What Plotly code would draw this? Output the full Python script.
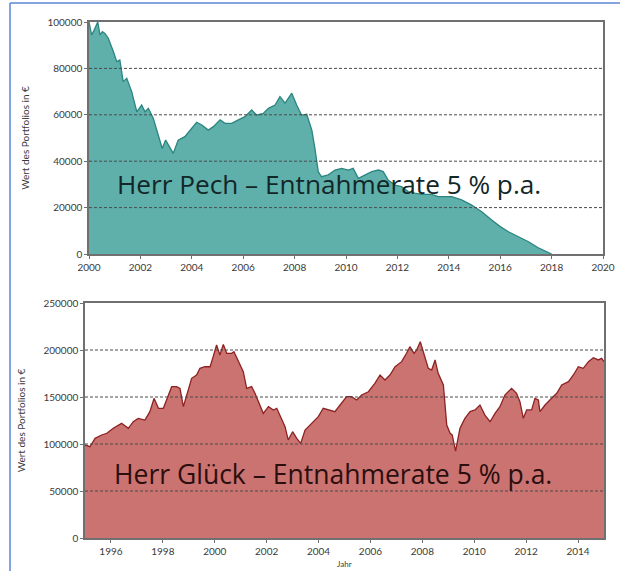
import plotly.graph_objects as go

# ---------------- data ----------------
pech_year = [2000.0, 2000.1, 2000.2, 2000.34, 2000.43, 2000.52, 2000.62, 2000.75, 2000.95, 2001.08, 2001.2,
             2001.33, 2001.47, 2001.66, 2001.86, 2002.05, 2002.18, 2002.31, 2002.5, 2002.7, 2002.85,
             2002.98, 2003.15, 2003.28, 2003.47, 2003.73, 2004.0, 2004.19, 2004.39, 2004.64, 2004.84,
             2005.1, 2005.29, 2005.55, 2005.81, 2006.07, 2006.33, 2006.52, 2006.78, 2006.98, 2007.24,
             2007.43, 2007.63, 2007.89, 2008.08, 2008.27, 2008.47, 2008.67, 2008.79, 2008.92, 2009.05,
             2009.31, 2009.57, 2009.83, 2010.09, 2010.28, 2010.48, 2010.74, 2011.0, 2011.26, 2011.45,
             2011.64, 2011.9, 2012.16, 2012.42, 2012.68, 2012.94, 2013.33, 2013.59, 2014.11, 2014.5,
             2014.89, 2015.28, 2015.67, 2016.0, 2016.32, 2016.71, 2017.1, 2017.48, 2017.94, 2018.0]
pech_value = [100000, 94400, 96500, 100000, 94400, 95800, 95100, 93000, 87200, 82900, 83600,
              74300, 75700, 70000, 61300, 64200, 61300, 62800, 58500, 51300, 45500,
              49100, 45500, 43400, 49100, 50600, 54200, 56800, 55600, 53400, 54900,
              57800, 56300, 56300, 57800, 59200, 62100, 59900, 60600, 62800, 64200,
              67800, 65000, 69300, 64200, 59900, 60200, 53400, 45500, 35500, 33300,
              34100, 36200, 36900, 36200, 36900, 32600, 34100, 35500, 36200, 35500,
              31900, 29700, 29000, 26900, 26200, 25700, 25700, 24700, 24700, 23300,
              21100, 18200, 14700, 11800, 9600, 7500, 5300, 2700, 300, 0]

glueck_year = [1995.0, 1995.19, 1995.39, 1995.64, 1995.84, 1996.09, 1996.41, 1996.67, 1996.86, 1997.05,
               1997.31, 1997.5, 1997.66, 1997.83, 1998.02, 1998.21, 1998.34, 1998.53, 1998.66, 1998.79,
               1998.92, 1999.11, 1999.3, 1999.43, 1999.62, 1999.82, 1999.94, 2000.07, 2000.2, 2000.33,
               2000.46, 2000.65, 2000.74, 2000.91, 2001.1, 2001.23, 2001.42, 2001.55, 2001.68, 2001.87,
               2002.07, 2002.26, 2002.39, 2002.58, 2002.71, 2002.83, 2003.0, 2003.16, 2003.31, 2003.48,
               2003.73, 2003.99, 2004.18, 2004.44, 2004.63, 2004.83, 2005.08, 2005.27, 2005.47, 2005.66,
               2005.92, 2006.17, 2006.37, 2006.56, 2006.75, 2006.95, 2007.2, 2007.39, 2007.52, 2007.68,
               2007.78, 2007.92, 2008.04, 2008.23, 2008.36, 2008.49, 2008.61, 2008.81, 2008.94, 2009.07,
               2009.15, 2009.28, 2009.45, 2009.64, 2009.84, 2010.03, 2010.22, 2010.41, 2010.61, 2010.8,
               2010.99, 2011.18, 2011.44, 2011.63, 2011.76, 2011.89, 2012.02, 2012.21, 2012.34, 2012.47,
               2012.53, 2012.73, 2012.98, 2013.18, 2013.37, 2013.63, 2013.82, 2014.01, 2014.2, 2014.4,
               2014.59, 2014.78, 2014.91, 2015.0]
glueck_value = [99000, 97100, 106000, 109600, 111400, 116700, 122000, 116700, 123700, 127300,
                125500, 134400, 148600, 138000, 138000, 152100, 161000, 161000, 159200, 139700,
                152100, 169900, 173400, 180500, 182200, 182200, 192900, 205300, 194700, 206000,
                196500, 196500, 198200, 187600, 176900, 159200, 161000, 153900, 145000, 132600,
                139700, 136200, 138000, 125500, 118400, 104300, 113100, 106000, 100700, 114900,
                122000, 129100, 138000, 136200, 134400, 141500, 150300, 150300, 146800, 152100,
                155600, 164500, 173400, 168100, 173400, 182200, 187600, 196500, 203500, 196500,
                200000, 208800, 198200, 180500, 178700, 189400, 175200, 162800, 120200, 111400,
                109600, 92500, 116700, 127300, 134400, 136200, 141500, 130800, 123700, 132600,
                139700, 152100, 159200, 153900, 145000, 127300, 136200, 136200, 148600, 146800,
                134400, 141500, 148600, 153900, 162800, 166300, 173400, 182200, 180500, 187600,
                191800, 189400, 191100, 187600]

pech_xticks = [2000, 2002, 2004, 2006, 2008, 2010, 2012, 2014, 2016, 2018, 2020]
pech_yticks = [0, 20000, 40000, 60000, 80000, 100000]
glueck_xticks = [1996, 1998, 2000, 2002, 2004, 2006, 2008, 2010, 2012, 2014]
glueck_yticks = [0, 50000, 100000, 150000, 200000, 250000]

y_title = "Wert des Portfolios in €"
x_title = "Jahr"
pech_label = "Herr Pech – Entnahmerate 5 % p.a."
glueck_label = "Herr Glück – Entnahmerate 5 % p.a."

# ---------------- layout helpers ----------------
W, H = 620, 571
def px(x):
    return x / W
def py(y):
    return (H - y) / H

tick_font = dict(family="Lato, DejaVu Sans, sans-serif", size=10, color="#3a3a3a")
title_font = dict(family="Lato, DejaVu Sans, sans-serif", size=10, color="#3a3a3a")
frame_col = "#707070"

fig = go.Figure()
fig.add_trace(go.Scatter(x=pech_year, y=pech_value, mode="lines", fill="tozeroy",
                         fillcolor="#5fb0ab", line=dict(color="#2a8580", width=1.3),
                         xaxis="x", yaxis="y", showlegend=False, hoverinfo="skip"))
fig.add_trace(go.Scatter(x=glueck_year, y=glueck_value, mode="lines", fill="tozeroy",
                         fillcolor="#ca7370", line=dict(color="#8e2222", width=1.3),
                         xaxis="x2", yaxis="y2", showlegend=False, hoverinfo="skip"))

axis_common = dict(showline=True, mirror=True, linecolor=frame_col, linewidth=1.5,
                   ticks="outside", ticklen=3, tickcolor=frame_col, tickfont=tick_font,
                   showgrid=False, zeroline=False, layer="above traces",
                   automargin=False, tickformat="d")

fig.update_layout(
    width=W, height=H,
    margin=dict(l=0, r=0, t=0, b=0, autoexpand=False),
    paper_bgcolor="white", plot_bgcolor="white",
    xaxis=dict(domain=[px(89), px(603)], range=[2000, 2020], tickvals=pech_xticks,
               anchor="y", **axis_common),
    yaxis=dict(domain=[py(254), py(22)], range=[0, 100000], tickvals=pech_yticks,
               anchor="x", title=dict(text=y_title, font=title_font, standoff=16), **axis_common),
    xaxis2=dict(domain=[px(85), px(604)], range=[1995, 2015], tickvals=glueck_xticks,
                anchor="y2", **axis_common),
    yaxis2=dict(domain=[py(538), py(303)], range=[0, 250000], tickvals=glueck_yticks,
                anchor="x2", title=dict(text=y_title, font=title_font, standoff=16), **axis_common),
)

shapes = []
# dashed gridlines above the filled areas
for v in pech_yticks[1:-1]:
    shapes.append(dict(type="line", xref="x domain", yref="y", x0=0, x1=1, y0=v, y1=v,
                       line=dict(color="#4a4a4a", width=1, dash="3px,2px"), layer="above"))
for v in glueck_yticks[1:-1]:
    shapes.append(dict(type="line", xref="x2 domain", yref="y2", x0=0, x1=1, y0=v, y1=v,
                       line=dict(color="#4a4a4a", width=1, dash="3px,2px"), layer="above"))
# blue frame of the picture
shapes.append(dict(type="line", xref="paper", yref="paper", x0=px(10), x1=1, y0=py(3), y1=py(3),
                   line=dict(color="#5b86d6", width=1.5)))
shapes.append(dict(type="line", xref="paper", yref="paper", x0=px(10), x1=px(10), y0=py(3), y1=0,
                   line=dict(color="#5b86d6", width=1.5)))
fig.update_layout(shapes=shapes)

label_font = "Open Sans, Noto Sans, sans-serif"
fig.add_annotation(text=pech_label, xref="paper", yref="paper", x=px(115), y=py(184),
                   xanchor="left", yanchor="middle", showarrow=False,
                   font=dict(family=label_font, size=26.2, color="#122727"))
fig.add_annotation(text=glueck_label, xref="paper", yref="paper", x=px(112), y=py(474),
                   xanchor="left", yanchor="middle", showarrow=False,
                   font=dict(family=label_font, size=26.5, color="#2b0e0e"))
fig.add_annotation(text=x_title, xref="paper", yref="paper", x=px(344), y=0,
                   xanchor="center", yanchor="bottom", showarrow=False,
                   font=dict(family="Lato, DejaVu Sans, sans-serif", size=8, color="#3a3a3a"))

fig.write_html("out.html", config={"displayModeBar": False},
               post_script="document.body.style.margin='0';document.body.style.overflow='hidden';")
